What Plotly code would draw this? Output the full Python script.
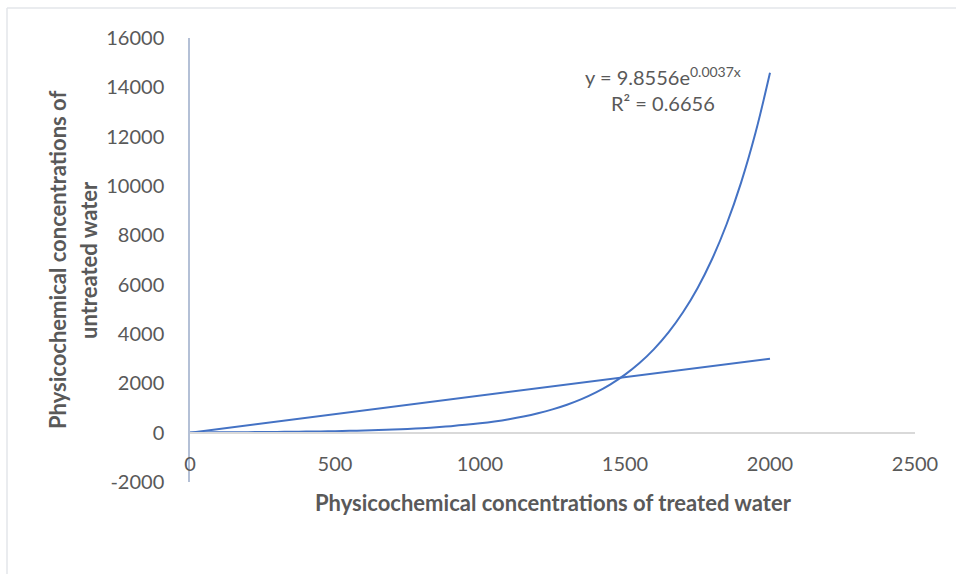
import plotly.graph_objects as go

# Treated vs untreated physicochemical concentrations
line_x = [0, 2000]
line_y = [0, 3000]

# Exponential trendline values (y = 9.8556e^0.0037x), read at steps of 50
trend_x = [0, 50, 100, 150, 200, 250, 300, 350, 400, 450, 500,
           550, 600, 650, 700, 750, 800, 850, 900, 950, 1000,
           1050, 1100, 1150, 1200, 1250, 1300, 1350, 1400, 1450, 1500,
           1550, 1600, 1650, 1700, 1750, 1800, 1850, 1900, 1950, 2000]
trend_y = [9.9, 11.8, 14.2, 17.0, 20.5, 24.5, 29.5, 35.4, 42.4, 50.9, 61.1,
           73.4, 88.1, 105.7, 126.9, 152.3, 182.7, 219.3, 263.2, 315.9, 379.2,
           455.1, 546.2, 655.6, 786.8, 944.4, 1133, 1360, 1633, 1960, 2352,
           2823, 3388, 4067, 4881, 5858, 7031, 8439, 10128, 12157, 14589]

x_ticks = [0, 500, 1000, 1500, 2000, 2500]
y_ticks = [-2000, 0, 2000, 4000, 6000, 8000, 10000, 12000, 14000, 16000]

equation = "y = 9.8556e<sup>0.0037x</sup>"
r_squared = "R² = 0.6656"

BLUE = "#4472C4"
TEXT = "#595959"
FONT = "Lato"

W, H = 956, 574
L, R, T, B = 190, 41, 38, 92
pw, ph = W - L - R, H - T - B


def px(xp):
    return (xp - L) / pw


def py(yp):
    return (H - B - yp) / ph


fig = go.Figure()
fig.add_trace(go.Scatter(x=line_x, y=line_y, mode="lines",
                         line=dict(color=BLUE, width=2), showlegend=False))
fig.add_trace(go.Scatter(x=trend_x, y=trend_y, mode="lines",
                         line=dict(color=BLUE, width=2, shape="spline", smoothing=1.0),
                         showlegend=False))

fig.update_layout(
    width=W, height=H,
    margin=dict(l=L, r=R, t=T, b=B),
    paper_bgcolor="white", plot_bgcolor="white",
    font=dict(family=FONT, color=TEXT, size=20),
    xaxis=dict(range=[0, 2500], tickvals=x_ticks, ticktext=[str(v) for v in x_ticks],
               showgrid=False, zeroline=False, showline=True,
               linecolor="#d9d9d9", linewidth=1.5,
               anchor="free", position=2000 / 18000,
               ticks="", ticklabelstandoff=14,
               tickfont=dict(family=FONT, size=20, color=TEXT)),
    yaxis=dict(range=[-2000, 16000], tickvals=y_ticks, ticktext=[str(v) for v in y_ticks],
               showgrid=False, zeroline=False, showline=True,
               linecolor="#b4c0d6", linewidth=1.5,
               ticks="", ticklabelstandoff=20,
               tickfont=dict(family=FONT, size=20, color=TEXT)),
)

annotations = [
    dict(text=equation, x=px(663), y=py(76), xanchor="center", yanchor="middle",
         font=dict(size=20, color=TEXT)),
    dict(text=r_squared, x=px(663), y=py(103), xanchor="center", yanchor="middle",
         font=dict(size=20, color=TEXT)),
    dict(text="<b>Physicochemical concentrations of treated water</b>",
         x=px(553), y=py(502), xanchor="center", yanchor="middle",
         font=dict(size=22, color=TEXT)),
    dict(text="<b>Physicochemical concentrations of</b>",
         x=px(57), y=py(260), xanchor="center", yanchor="middle", textangle=-90,
         font=dict(size=22, color=TEXT)),
    dict(text="<b>untreated water</b>",
         x=px(88), y=py(260), xanchor="center", yanchor="middle", textangle=-90,
         font=dict(size=22, color=TEXT)),
]
for a in annotations:
    a.update(xref="paper", yref="paper", showarrow=False)
fig.update_layout(annotations=annotations)

# Light frame around the chart area
fig.add_shape(type="line", xref="paper", yref="paper",
              x0=px(7), y0=py(8), x1=px(W), y1=py(8),
              line=dict(color="#e3e6ea", width=1.5))
fig.add_shape(type="line", xref="paper", yref="paper",
              x0=px(7), y0=py(8), x1=px(7), y1=py(H),
              line=dict(color="#e3e6ea", width=1.5))

fig.write_html("out.html")
